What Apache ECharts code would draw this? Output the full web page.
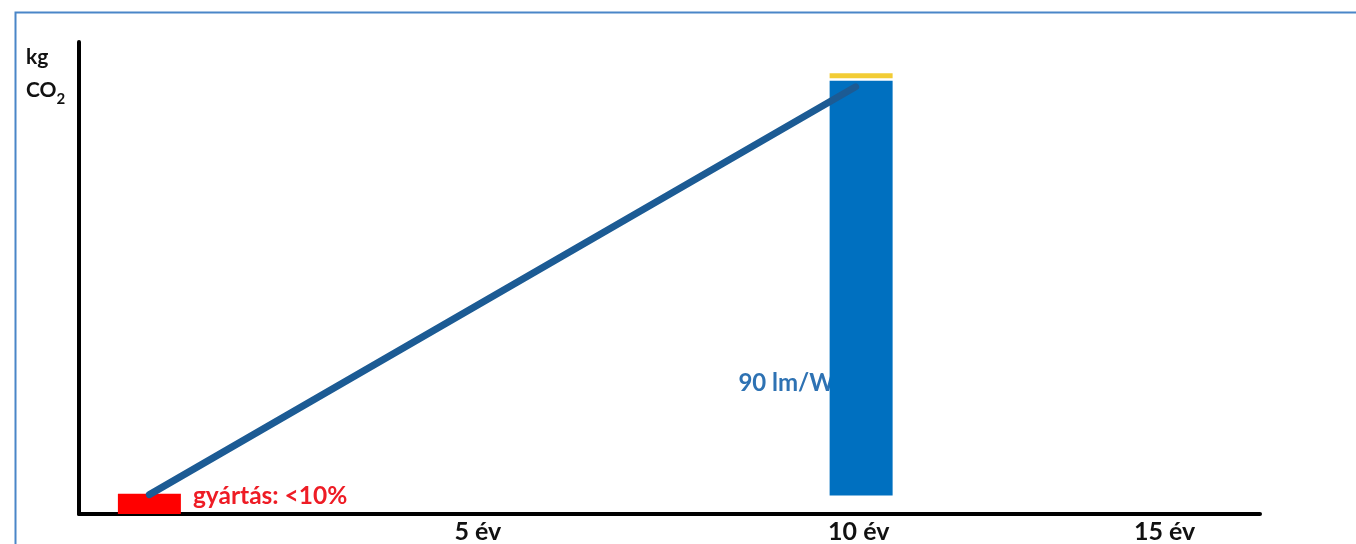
<!DOCTYPE html>
<html>
<head>
<meta charset="utf-8">
<script src="https://cdn.jsdelivr.net/npm/echarts@6/dist/echarts.min.js"></script>
<style>
html,body{margin:0;padding:0;background:#fff;}
#chart{width:1356px;height:544px;}
</style>
</head>
<body>
<div id="chart"></div>
<script>
// ---- data ----
const xTickValues = [5.1, 9.97, 13.88];          // where the tick labels sit on the year axis
const xTickLabels = ['5 év', '10 év', '15 év'];
const productionBar = [0.9, 4.3];                 // [year, kg CO2]
const productionLabel = 'gyártás: <10%';
const usageBlue = [10, 3.9, 91.8];                // [year, from, to] blue usage bar
const usageYellow = [10, 92.3, 93.4];             // [year, from, to] yellow cap
const emissionLine = [[0.9, 4.1], [9.93, 90.5]];  // cumulative emission line
const efficiencyLabel = '90 lm/W';
const efficiencyLabelPos = [9.66, 27.8];
const yName = ['kg', 'CO', '2'];

const FONT = 'Lato';
const BAR_W = 63;
const chart = echarts.init(document.getElementById('chart'), null, {renderer: 'canvas'});

function rangeBar(item, color, z) {
  return {
    type: 'custom', z: z, silent: true,
    data: [item],
    encode: {x: 0, y: [1, 2]},
    renderItem: function (params, api) {
      const lo = api.coord([api.value(0), api.value(1)]);
      const hi = api.coord([api.value(0), api.value(2)]);
      return {
        type: 'rect',
        shape: {x: lo[0] - BAR_W / 2, y: hi[1], width: BAR_W, height: lo[1] - hi[1]},
        style: {fill: color}
      };
    }
  };
}

chart.setOption({
  animation: false,
  backgroundColor: '#ffffff',
  graphic: [{
    type: 'rect', left: 13, top: 10, z: 0,
    shape: {width: 1400, height: 600},
    style: {fill: 'none', stroke: '#4a86c8', lineWidth: 2}
  }],
  title: {
    left: 26, top: 41, padding: 0,
    text: '{t|' + yName[0] + '}\n{t|' + yName[1] + '}{s|' + yName[2] + '}',
    textStyle: {
      rich: {
        t: {fontFamily: FONT, fontWeight: 'bold', fontSize: 21, color: '#111', lineHeight: 33},
        s: {fontFamily: FONT, fontWeight: 'bold', fontSize: 15, color: '#111', lineHeight: 14, verticalAlign: 'bottom'}
      }
    }
  },
  grid: {left: 79, right: 96, top: 42, bottom: 28.5, containLabel: false},
  xAxis: {
    type: 'value', min: 0, max: 15.1,
    splitLine: {show: false},
    axisTick: {show: false},
    axisLine: {show: true, lineStyle: {color: '#000', width: 4}},
    axisLabel: {
      show: true,
      customValues: xTickValues,
      formatter: function (v) {
        const i = xTickValues.findIndex(t => Math.abs(t - v) < 1e-6);
        return i >= 0 ? xTickLabels[i] : '';
      },
      margin: 5, color: '#111', fontFamily: FONT, fontWeight: 'bold', fontSize: 25
    }
  },
  yAxis: {
    type: 'value', min: 0, max: 100,
    splitLine: {show: false},
    axisTick: {show: false},
    axisLabel: {show: false},
    axisLine: {show: true, lineStyle: {color: '#000', width: 4}}
  },
  series: [
    {
      type: 'scatter', z: 1, symbolSize: 0, silent: true,
      itemStyle: {opacity: 1},
      data: [efficiencyLabelPos],
      label: {
        show: true, position: 'left', distance: 0,
        formatter: efficiencyLabel,
        color: '#2e72b3', fontFamily: FONT, fontWeight: 'bold', fontSize: 24
      }
    },
    {
      type: 'bar', barWidth: BAR_W, z: 2,
      itemStyle: {color: '#ff0000'},
      data: [productionBar],
      label: {
        show: true, position: 'right', distance: 12, offset: [0, -8],
        formatter: productionLabel,
        color: '#ee1c25', fontFamily: FONT, fontWeight: 'bold', fontSize: 24.5
      }
    },
    rangeBar(usageBlue, '#0070c0', 3),
    rangeBar(usageYellow, '#f2cc35', 3),
    {
      type: 'line', z: 5, symbol: 'none', silent: true,
      data: emissionLine,
      lineStyle: {color: '#1c5b94', width: 7, cap: 'round'}
    }
  ]
});
</script>
</body>
</html>
